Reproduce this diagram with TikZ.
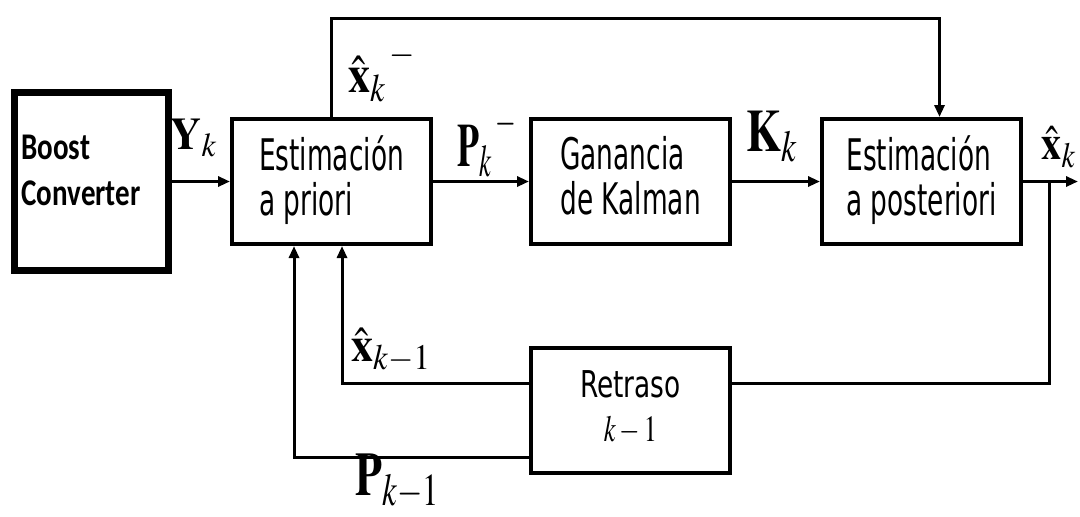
\documentclass[tikz,border=0pt]{standalone}
\usepackage{mathptmx}
\usepackage[no-math]{fontspec}
\usepackage{graphicx}
\newfontfamily\blockfont{DejaVu Sans}
\newfontfamily\boostfont{Carlito}
\usetikzlibrary{arrows.meta, positioning}

% stretched text, stacked lines and signal names
\newcommand{\tall}[2][1.65]{\scalebox{1}[#1]{#2}}
\newcommand{\stack}[2][l]{\tall{\begin{tabular}{@{}#1@{}}#2\end{tabular}}}
\newcommand{\sig}[3]{\fontsize{#1}{#1}\selectfont\tall[#2]{$#3$}}
\newcommand{\highminus}{{}^{\,\raisebox{0.35ex}{$\scriptstyle -$}}}

\tikzset{
  block/.style = {draw, line width=2pt, minimum width=99.5pt,
                  minimum height=62.5pt, inner sep=0pt,
                  font=\blockfont\fontsize{13.2}{12}\selectfont},
  source/.style = {draw, line width=3.5pt, minimum width=77pt,
                   minimum height=89pt, inner sep=0pt, text width=70pt,
                   align=left, font=\boostfont\bfseries\fontsize{14.5}{18}\selectfont},
  wire/.style = {line width=1.5pt},
  link/.style = {wire, arrows={-Triangle[length=6pt, width=5pt]}},
  signal/.style = {inner sep=0pt},
}

\begin{document}
\begin{tikzpicture}
  \useasboundingbox (0pt, 0pt) rectangle (540pt, -258pt);

  %% The filter blocks
  \node [block] (apriori) at (165.75pt, -90.75pt) {\stack{Estimación\\a priori}};
  \node [block, right=48pt of apriori] (gain) {\stack{Ganancia\\de Kalman}};
  \node [block, right=44pt of gain] (post) {\stack{Estimación\\a posteriori}};
  \node [block, below=50pt of gain, font=\blockfont\fontsize{13.2}{16}\selectfont] (delay)
        {\tall[1.4]{\begin{tabular}{@{}c@{}}Retraso\\$k-1$\end{tabular}}};
  \node [source, left=29pt of apriori] (boost)
        {\tall[1.3]{\begin{tabular}{@{}l@{}}Boost\\Converter\\[6.5pt]\end{tabular}}};

  %% Free ends of the wires
  \coordinate (loop) at (0pt, -9pt);
  \coordinate (out) at (539pt, 0pt);
  \coordinate (tap) at ([xshift=13pt] post.east);

  %% Forward path
  \draw [link] (boost) -- (apriori);
  \draw [link] (apriori) -- (gain);
  \draw [link] (gain) -- (post);
  \draw [link] (post.east) -- (post.east -| out);
  \draw [link] (apriori.north) -- (apriori.north |- loop) -| ([xshift=9pt] post.north);

  %% Feedback through the delay
  \draw [wire] (tap) |- ([yshift=13.5pt] delay.east);
  \draw [link] ([yshift=13.5pt] delay.west) -| ([xshift=5.25pt] apriori.south);
  \draw [link] ([yshift=-23.5pt] delay.west) -| ([xshift=-18.75pt] apriori.south);

  %% Signal labels
  \node [signal] (yk) at (97pt, -69pt) {\sig{21.5}{1.05}{\mathbf{Y}_k}};
  \node [signal] (xprior) at (191pt, -36pt) {\sig{22}{1.2}{\hat{\mathbf{x}}_k\highminus}};
  \node [signal] (pprior) at (243.5pt, -71.5pt) {\sig{18}{1.7}{\mathbf{P}_k\highminus}};
  \node [signal] (kk) at (386pt, -68.5pt) {\sig{22.5}{1.33}{\mathbf{K}_k}};
  \node [signal] (xk) at (529.5pt, -73.5pt) {\sig{20}{1.2}{\hat{\mathbf{x}}_k}};
  \node [signal] (xprev) at (195.5pt, -175pt) {\sig{22}{1.1}{\hat{\mathbf{x}}_{k-1}}};
  \node [signal] (pprev) at (199pt, -241pt) {\sig{22}{1.4}{\mathbf{P}_{k-1}}};
\end{tikzpicture}
\end{document}
